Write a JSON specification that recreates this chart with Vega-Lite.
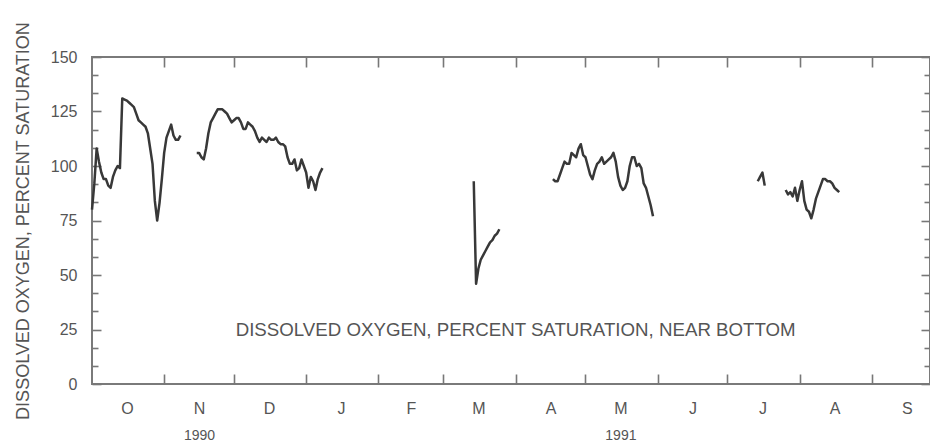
{
  "$schema": "https://vega.github.io/schema/vega-lite/v6.json",
  "width": 838,
  "height": 327,
  "autosize": {"type": "none"},
  "padding": {"left": 92, "top": 57, "right": 0, "bottom": 60},
  "background": "white",
  "config": {
    "view": {"stroke": "#7a7a7a", "strokeWidth": 2},
    "axis": {"labelFont": "Liberation Sans", "labelColor": "#555", "labelFontSize": 16, "titleFont": "Liberation Sans", "domain": false, "grid": false, "tickColor": "#777", "tickWidth": 1.6, "title": null}
  },
  "datasets": {
    "do": [
      {"date":"1990-10-01","value":80,"seg":1},
      {"date":"1990-10-02","value":92,"seg":1},
      {"date":"1990-10-03","value":108,"seg":1},
      {"date":"1990-10-04","value":102,"seg":1},
      {"date":"1990-10-05","value":97,"seg":1},
      {"date":"1990-10-06","value":94,"seg":1},
      {"date":"1990-10-07","value":94,"seg":1},
      {"date":"1990-10-08","value":91,"seg":1},
      {"date":"1990-10-09","value":90,"seg":1},
      {"date":"1990-10-10","value":95,"seg":1},
      {"date":"1990-10-11","value":98,"seg":1},
      {"date":"1990-10-12","value":100,"seg":1},
      {"date":"1990-10-13","value":99,"seg":1},
      {"date":"1990-10-14","value":131,"seg":1},
      {"date":"1990-10-15","value":130.5,"seg":1},
      {"date":"1990-10-16","value":130,"seg":1},
      {"date":"1990-10-17","value":129,"seg":1},
      {"date":"1990-10-18","value":128,"seg":1},
      {"date":"1990-10-19","value":127,"seg":1},
      {"date":"1990-10-20","value":124,"seg":1},
      {"date":"1990-10-21","value":121,"seg":1},
      {"date":"1990-10-22","value":120,"seg":1},
      {"date":"1990-10-23","value":119,"seg":1},
      {"date":"1990-10-24","value":118,"seg":1},
      {"date":"1990-10-25","value":115,"seg":1},
      {"date":"1990-10-26","value":108,"seg":1},
      {"date":"1990-10-27","value":101,"seg":1},
      {"date":"1990-10-28","value":84,"seg":1},
      {"date":"1990-10-29","value":75,"seg":1},
      {"date":"1990-10-30","value":83,"seg":1},
      {"date":"1990-10-31","value":94,"seg":1},
      {"date":"1990-11-01","value":106,"seg":1},
      {"date":"1990-11-02","value":113,"seg":1},
      {"date":"1990-11-03","value":116,"seg":1},
      {"date":"1990-11-04","value":119,"seg":1},
      {"date":"1990-11-05","value":114,"seg":1},
      {"date":"1990-11-06","value":112,"seg":1},
      {"date":"1990-11-07","value":112,"seg":1},
      {"date":"1990-11-08","value":114,"seg":1},
      {"date":"1990-11-15","value":106,"seg":2},
      {"date":"1990-11-16","value":106,"seg":2},
      {"date":"1990-11-17","value":104,"seg":2},
      {"date":"1990-11-18","value":103,"seg":2},
      {"date":"1990-11-19","value":108,"seg":2},
      {"date":"1990-11-20","value":115,"seg":2},
      {"date":"1990-11-21","value":120,"seg":2},
      {"date":"1990-11-22","value":122,"seg":2},
      {"date":"1990-11-23","value":124,"seg":2},
      {"date":"1990-11-24","value":126,"seg":2},
      {"date":"1990-11-25","value":126,"seg":2},
      {"date":"1990-11-26","value":126,"seg":2},
      {"date":"1990-11-27","value":125,"seg":2},
      {"date":"1990-11-28","value":124,"seg":2},
      {"date":"1990-11-29","value":122,"seg":2},
      {"date":"1990-11-30","value":120,"seg":2},
      {"date":"1990-12-01","value":121,"seg":2},
      {"date":"1990-12-02","value":122,"seg":2},
      {"date":"1990-12-03","value":122,"seg":2},
      {"date":"1990-12-04","value":120,"seg":2},
      {"date":"1990-12-05","value":117,"seg":2},
      {"date":"1990-12-06","value":117,"seg":2},
      {"date":"1990-12-07","value":120,"seg":2},
      {"date":"1990-12-08","value":119,"seg":2},
      {"date":"1990-12-09","value":118,"seg":2},
      {"date":"1990-12-10","value":116,"seg":2},
      {"date":"1990-12-11","value":113,"seg":2},
      {"date":"1990-12-12","value":111,"seg":2},
      {"date":"1990-12-13","value":113,"seg":2},
      {"date":"1990-12-14","value":112,"seg":2},
      {"date":"1990-12-15","value":111,"seg":2},
      {"date":"1990-12-16","value":113,"seg":2},
      {"date":"1990-12-17","value":112,"seg":2},
      {"date":"1990-12-18","value":112,"seg":2},
      {"date":"1990-12-19","value":113,"seg":2},
      {"date":"1990-12-20","value":111,"seg":2},
      {"date":"1990-12-21","value":110,"seg":2},
      {"date":"1990-12-22","value":110,"seg":2},
      {"date":"1990-12-23","value":109,"seg":2},
      {"date":"1990-12-24","value":104,"seg":2},
      {"date":"1990-12-25","value":101,"seg":2},
      {"date":"1990-12-26","value":101,"seg":2},
      {"date":"1990-12-27","value":103,"seg":2},
      {"date":"1990-12-28","value":98,"seg":2},
      {"date":"1990-12-29","value":99,"seg":2},
      {"date":"1990-12-30","value":103,"seg":2},
      {"date":"1990-12-31","value":100,"seg":2},
      {"date":"1991-01-01","value":97,"seg":2},
      {"date":"1991-01-02","value":90,"seg":2},
      {"date":"1991-01-03","value":95,"seg":2},
      {"date":"1991-01-04","value":93,"seg":2},
      {"date":"1991-01-05","value":89,"seg":2},
      {"date":"1991-01-06","value":94,"seg":2},
      {"date":"1991-01-07","value":97,"seg":2},
      {"date":"1991-01-08","value":99,"seg":2},
      {"date":"1991-03-14","value":93,"seg":3},
      {"date":"1991-03-15","value":46,"seg":3},
      {"date":"1991-03-16","value":53,"seg":3},
      {"date":"1991-03-17","value":57,"seg":3},
      {"date":"1991-03-18","value":59,"seg":3},
      {"date":"1991-03-19","value":61,"seg":3},
      {"date":"1991-03-20","value":63,"seg":3},
      {"date":"1991-03-21","value":65,"seg":3},
      {"date":"1991-03-22","value":66,"seg":3},
      {"date":"1991-03-23","value":68,"seg":3},
      {"date":"1991-03-24","value":69,"seg":3},
      {"date":"1991-03-25","value":71,"seg":3},
      {"date":"1991-04-17","value":94,"seg":4},
      {"date":"1991-04-18","value":93,"seg":4},
      {"date":"1991-04-19","value":93,"seg":4},
      {"date":"1991-04-20","value":96,"seg":4},
      {"date":"1991-04-21","value":99,"seg":4},
      {"date":"1991-04-22","value":102,"seg":4},
      {"date":"1991-04-23","value":101,"seg":4},
      {"date":"1991-04-24","value":101,"seg":4},
      {"date":"1991-04-25","value":106,"seg":4},
      {"date":"1991-04-26","value":105,"seg":4},
      {"date":"1991-04-27","value":104,"seg":4},
      {"date":"1991-04-28","value":108,"seg":4},
      {"date":"1991-04-29","value":110,"seg":4},
      {"date":"1991-04-30","value":105,"seg":4},
      {"date":"1991-05-01","value":104,"seg":4},
      {"date":"1991-05-02","value":100,"seg":4},
      {"date":"1991-05-03","value":96,"seg":4},
      {"date":"1991-05-04","value":94,"seg":4},
      {"date":"1991-05-05","value":98,"seg":4},
      {"date":"1991-05-06","value":101,"seg":4},
      {"date":"1991-05-07","value":102,"seg":4},
      {"date":"1991-05-08","value":104,"seg":4},
      {"date":"1991-05-09","value":101,"seg":4},
      {"date":"1991-05-10","value":102,"seg":4},
      {"date":"1991-05-11","value":103,"seg":4},
      {"date":"1991-05-12","value":104,"seg":4},
      {"date":"1991-05-13","value":106,"seg":4},
      {"date":"1991-05-14","value":102,"seg":4},
      {"date":"1991-05-15","value":95,"seg":4},
      {"date":"1991-05-16","value":91,"seg":4},
      {"date":"1991-05-17","value":89,"seg":4},
      {"date":"1991-05-18","value":90,"seg":4},
      {"date":"1991-05-19","value":93,"seg":4},
      {"date":"1991-05-20","value":100,"seg":4},
      {"date":"1991-05-21","value":104,"seg":4},
      {"date":"1991-05-22","value":104,"seg":4},
      {"date":"1991-05-23","value":100,"seg":4},
      {"date":"1991-05-24","value":101,"seg":4},
      {"date":"1991-05-25","value":99,"seg":4},
      {"date":"1991-05-26","value":92,"seg":4},
      {"date":"1991-05-27","value":90,"seg":4},
      {"date":"1991-05-28","value":86,"seg":4},
      {"date":"1991-05-29","value":82,"seg":4},
      {"date":"1991-05-30","value":77,"seg":4},
      {"date":"1991-07-14","value":93,"seg":5},
      {"date":"1991-07-15","value":95,"seg":5},
      {"date":"1991-07-16","value":97,"seg":5},
      {"date":"1991-07-17","value":91,"seg":5},
      {"date":"1991-07-26","value":89,"seg":6},
      {"date":"1991-07-27","value":87,"seg":6},
      {"date":"1991-07-28","value":88,"seg":6},
      {"date":"1991-07-29","value":86,"seg":6},
      {"date":"1991-07-30","value":90,"seg":6},
      {"date":"1991-07-31","value":84,"seg":6},
      {"date":"1991-08-01","value":89,"seg":6},
      {"date":"1991-08-02","value":93,"seg":6},
      {"date":"1991-08-03","value":84,"seg":6},
      {"date":"1991-08-04","value":80,"seg":6},
      {"date":"1991-08-05","value":79,"seg":6},
      {"date":"1991-08-06","value":76,"seg":6},
      {"date":"1991-08-07","value":80,"seg":6},
      {"date":"1991-08-08","value":85,"seg":6},
      {"date":"1991-08-09","value":88,"seg":6},
      {"date":"1991-08-10","value":91,"seg":6},
      {"date":"1991-08-11","value":94,"seg":6},
      {"date":"1991-08-12","value":94,"seg":6},
      {"date":"1991-08-13","value":93,"seg":6},
      {"date":"1991-08-14","value":93,"seg":6},
      {"date":"1991-08-15","value":92,"seg":6},
      {"date":"1991-08-16","value":90,"seg":6},
      {"date":"1991-08-17","value":89,"seg":6},
      {"date":"1991-08-18","value":88,"seg":6}
    ]
  },
  "resolve": {"axis": {"x": "independent", "y": "independent"}},
  "layer": [
    {
      "data": {"name": "do"},
      "mark": {"type": "line", "color": "#383838", "strokeWidth": 2.5, "strokeJoin": "round"},
      "encoding": {
        "x": {"field": "date", "type": "temporal",
          "scale": {"type": "utc", "domain": [{"year":1990,"month":10,"date":1,"utc":true},{"year":1991,"month":9,"date":26,"utc":true}]},
          "axis": {"orient": "bottom", "labels": false, "tickSize": 10, "offset": -10,
            "values": [{"year":1990,"month":11,"date":1,"utc":true},{"year":1990,"month":12,"date":1,"utc":true},{"year":1991,"month":1,"date":1,"utc":true},{"year":1991,"month":2,"date":1,"utc":true},{"year":1991,"month":3,"date":1,"utc":true},{"year":1991,"month":4,"date":1,"utc":true},{"year":1991,"month":5,"date":1,"utc":true},{"year":1991,"month":6,"date":1,"utc":true},{"year":1991,"month":7,"date":1,"utc":true},{"year":1991,"month":8,"date":1,"utc":true},{"year":1991,"month":9,"date":1,"utc":true}]}},
        "y": {"field": "value", "type": "quantitative",
          "scale": {"domain": [0, 150], "nice": false},
          "axis": {"orient": "left", "values": [0,25,50,75,100,125,150], "ticks": false, "labelPadding": 15,
            "title": "DISSOLVED OXYGEN, PERCENT SATURATION", "titleFontSize": 18, "titleFontWeight": "normal", "titleColor": "#555", "titlePadding": 18}},
        "detail": {"field": "seg", "type": "nominal"}
      }
    },
    {
      "data": {"name": "do"},
      "mark": {"type": "point", "opacity": 0},
      "encoding": {
        "x": {"field": "date", "type": "temporal",
          "scale": {"type": "utc", "domain": [{"year":1990,"month":10,"date":1,"utc":true},{"year":1991,"month":9,"date":26,"utc":true}]},
          "axis": {"orient": "bottom", "ticks": false, "labelPadding": 16, "labelBaseline": "top", "labelFontSize": 16,
            "labelExpr": "['J','F','M','A','M','J','J','A','S','O','N','D'][utcmonth(datum.value)]",
            "values": [{"year":1990,"month":10,"date":16,"utc":true},{"year":1990,"month":11,"date":16,"utc":true},{"year":1990,"month":12,"date":16,"utc":true},{"year":1991,"month":1,"date":16,"utc":true},{"year":1991,"month":2,"date":15,"utc":true},{"year":1991,"month":3,"date":16,"utc":true},{"year":1991,"month":4,"date":16,"utc":true},{"year":1991,"month":5,"date":16,"utc":true},{"year":1991,"month":6,"date":16,"utc":true},{"year":1991,"month":7,"date":16,"utc":true},{"year":1991,"month":8,"date":16,"utc":true},{"year":1991,"month":9,"date":16,"utc":true}]}},
        "y": {"field": "value", "type": "quantitative",
          "scale": {"domain": [0, 150], "nice": false},
          "axis": {"orient": "left", "values": [0,25,50,75,100,125,150], "labels": false, "tickSize": 9, "offset": -9}}
      }
    },
    {
      "data": {"name": "do"},
      "mark": {"type": "point", "opacity": 0},
      "encoding": {
        "x": {"field": "date", "type": "temporal",
          "scale": {"type": "utc", "domain": [{"year":1990,"month":10,"date":1,"utc":true},{"year":1991,"month":9,"date":26,"utc":true}]},
          "axis": {"orient": "top", "labels": false, "tickSize": 10, "offset": -10,
            "values": [{"year":1990,"month":11,"date":1,"utc":true},{"year":1990,"month":12,"date":1,"utc":true},{"year":1991,"month":1,"date":1,"utc":true},{"year":1991,"month":2,"date":1,"utc":true},{"year":1991,"month":3,"date":1,"utc":true},{"year":1991,"month":4,"date":1,"utc":true},{"year":1991,"month":5,"date":1,"utc":true},{"year":1991,"month":6,"date":1,"utc":true},{"year":1991,"month":7,"date":1,"utc":true},{"year":1991,"month":8,"date":1,"utc":true},{"year":1991,"month":9,"date":1,"utc":true}]}},
        "y": {"field": "value", "type": "quantitative",
          "scale": {"domain": [0, 150], "nice": false},
          "axis": {"orient": "left", "values": [8.333,16.667,33.333,41.667,58.333,66.667,83.333,91.667,108.333,116.667,133.333,141.667], "labels": false, "tickSize": 6, "offset": -6}}
      }
    },
    {
      "data": {"name": "do"},
      "mark": {"type": "point", "opacity": 0},
      "encoding": {
        "x": {"field": "date", "type": "temporal",
          "scale": {"type": "utc", "domain": [{"year":1990,"month":10,"date":1,"utc":true},{"year":1991,"month":9,"date":26,"utc":true}]},
          "axis": {"orient": "bottom", "ticks": false, "labelPadding": 44, "labelBaseline": "top", "labelFontSize": 14,
            "labelExpr": "utcFormat(datum.value, '%Y')",
            "values": [{"year":1990,"month":11,"date":16,"utc":true},{"year":1991,"month":5,"date":16,"utc":true}]}},
        "y": {"field": "value", "type": "quantitative",
          "scale": {"domain": [0, 150], "nice": false},
          "axis": {"orient": "right", "values": [0,25,50,75,100,125,150], "labels": false, "tickSize": 9, "offset": -9}}
      }
    },
    {
      "data": {"values": [{"date": "1991-04-01", "value": 25, "label": "DISSOLVED OXYGEN, PERCENT SATURATION, NEAR BOTTOM"}]},
      "mark": {"type": "text", "font": "Liberation Sans", "fontSize": 18.7, "color": "#555", "baseline": "middle", "align": "center"},
      "encoding": {
        "x": {"field": "date", "type": "temporal",
          "scale": {"type": "utc", "domain": [{"year":1990,"month":10,"date":1,"utc":true},{"year":1991,"month":9,"date":26,"utc":true}]},
          "axis": null},
        "y": {"field": "value", "type": "quantitative",
          "scale": {"domain": [0, 150], "nice": false},
          "axis": {"orient": "right", "values": [8.333,16.667,33.333,41.667,58.333,66.667,83.333,91.667,108.333,116.667,133.333,141.667], "labels": false, "tickSize": 6, "offset": -6}},
        "text": {"field": "label"}
      }
    }
  ]
}
